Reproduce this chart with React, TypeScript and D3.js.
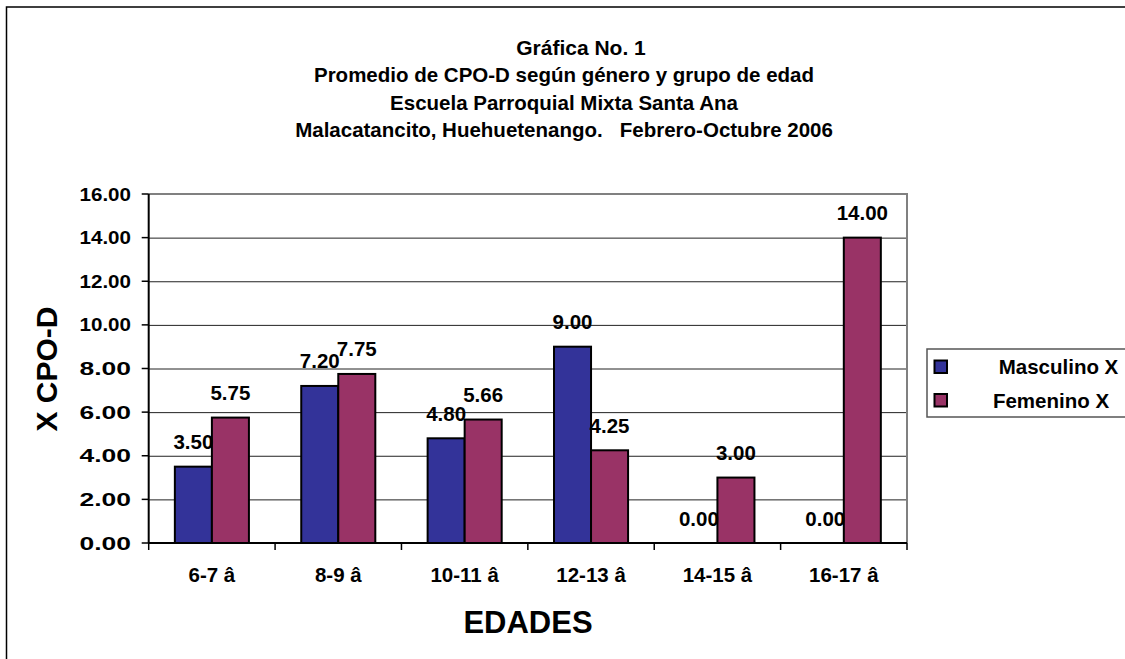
import React, { useEffect, useRef } from "react";
import * as d3 from "d3";

const categories = ["6-7 â", "8-9 â", "10-11 â", "12-13 â", "14-15 â", "16-17 â"];
const seriesNames = ["Masculino X", "Femenino X"];
const masculino = [3.5, 7.2, 4.8, 9.0, 0, 0];
const femenino = [5.75, 7.75, 5.66, 4.25, 3.0, 14.0];
const seriesColors = ["#333399", "#993366"];
const yTicks = [0, 2, 4, 6, 8, 10, 12, 14, 16];
const titleLines = [
  "Gráfica No. 1",
  "Promedio de CPO-D según género y grupo de edad",
  "Escuela Parroquial Mixta Santa Ana",
  "Malacatancito, Huehuetenango.   Febrero-Octubre 2006",
];

const FONT = "'Liberation Sans', Arial, sans-serif";

const App = () => {
  const svgRef = useRef<SVGSVGElement>(null);

  useEffect(() => {
    const width = 1125;
    const height = 659;
    const left = 148.7;
    const right = 907;
    const top = 194;
    const bottom = 543;

    const svg = d3.select(svgRef.current).attr("width", width).attr("height", height);
    svg.selectAll("*").remove();

    svg.append("rect").attr("width", width).attr("height", height).attr("fill", "#fff");

    // chart border (runs out of the frame on the right and bottom)
    svg
      .append("rect")
      .attr("x", 6.5)
      .attr("y", 7)
      .attr("width", 1140)
      .attr("height", 700)
      .attr("fill", "none")
      .attr("stroke", "#000")
      .attr("stroke-width", 1.5);

    // titles
    svg
      .append("g")
      .selectAll("text")
      .data(titleLines)
      .join("text")
      .attr("x", (d, i) => (i === 0 ? 581 : 564))
      .attr("y", (d, i) => 54.5 + i * 27.5)
      .attr("text-anchor", "middle")
      .attr("font-family", FONT)
      .attr("font-weight", "bold")
      .attr("font-size", (d, i) => (i === 0 ? 21 : 20.5))
      .attr("xml:space", "preserve")
      .style("white-space", "pre")
      .text((d) => d);

    const y = d3.scaleLinear().domain([0, 16]).range([bottom, top]);
    const x0 = d3
      .scaleBand()
      .domain(categories)
      .range([left, right])
      .paddingInner(0.414)
      .paddingOuter(0.207);
    const x1 = d3.scaleBand().domain(seriesNames).range([0, x0.bandwidth()]);
    const step = x0.step();

    // gridlines
    svg
      .append("g")
      .selectAll("line")
      .data(yTicks.filter((t) => t > 0 && t < 16))
      .join("line")
      .attr("x1", left)
      .attr("x2", right)
      .attr("y1", (d) => y(d) + 0.5)
      .attr("y2", (d) => y(d) + 0.5)
      .attr("stroke", "#222")
      .attr("stroke-width", 1);

    // plot area border top/right
    svg
      .append("path")
      .attr("d", `M${left},${top} H${right} V${bottom}`)
      .attr("fill", "none")
      .attr("stroke", "#808080")
      .attr("stroke-width", 2);

    // bars
    const rows = categories.map((c, i) => ({ cat: c, values: [masculino[i], femenino[i]] }));
    const groups = svg
      .append("g")
      .selectAll("g")
      .data(rows)
      .join("g")
      .attr("transform", (d) => `translate(${x0(d.cat)},0)`);

    groups
      .selectAll("rect")
      .data((d) => d.values.map((v, k) => ({ v, k })))
      .join("rect")
      .filter((d) => d.v > 0)
      .attr("x", (d) => x1(seriesNames[d.k])!)
      .attr("y", (d) => y(d.v))
      .attr("width", x1.bandwidth())
      .attr("height", (d) => y(0) - y(d.v))
      .attr("fill", (d) => seriesColors[d.k])
      .attr("stroke", "#000")
      .attr("stroke-width", 2);

    groups
      .selectAll("text")
      .data((d) => d.values.map((v, k) => ({ v, k })))
      .join("text")
      .attr("x", (d) => x1(seriesNames[d.k])! + x1.bandwidth() / 2)
      .attr("y", (d) => y(d.v) - 17.5)
      .attr("text-anchor", "middle")
      .attr("font-family", FONT)
      .attr("font-weight", "bold")
      .attr("font-size", 20.5)
      .text((d) => d.v.toFixed(2));

    // y axis
    const yAxis = svg.append("g");
    yAxis
      .append("line")
      .attr("x1", left)
      .attr("x2", left)
      .attr("y1", top)
      .attr("y2", bottom)
      .attr("stroke", "#000")
      .attr("stroke-width", 2);
    yAxis
      .selectAll("line.tick")
      .data(yTicks)
      .join("line")
      .attr("class", "tick")
      .attr("x1", left - 7)
      .attr("x2", left)
      .attr("y1", (d) => y(d))
      .attr("y2", (d) => y(d))
      .attr("stroke", "#000")
      .attr("stroke-width", 1.5);
    yAxis
      .selectAll("text")
      .data(yTicks)
      .join("text")
      .attr("x", 131)
      .attr("y", (d) => y(d) + 6.5)
      .attr("text-anchor", "end")
      .attr("font-family", FONT)
      .attr("font-weight", "bold")
      .attr("font-size", 18)
      .attr("textLength", 51.5)
      .attr("lengthAdjust", "spacingAndGlyphs")
      .text((d) => d.toFixed(2));

    // x axis
    const xAxis = svg.append("g");
    xAxis
      .append("line")
      .attr("x1", left)
      .attr("x2", right)
      .attr("y1", bottom)
      .attr("y2", bottom)
      .attr("stroke", "#000")
      .attr("stroke-width", 2);
    xAxis
      .selectAll("line.tick")
      .data(d3.range(categories.length + 1))
      .join("line")
      .attr("class", "tick")
      .attr("x1", (i) => left + i * step)
      .attr("x2", (i) => left + i * step)
      .attr("y1", bottom)
      .attr("y2", bottom + 7)
      .attr("stroke", "#000")
      .attr("stroke-width", 1.5);
    xAxis
      .selectAll("text")
      .data(categories)
      .join("text")
      .attr("x", (d) => x0(d)! + x0.bandwidth() / 2)
      .attr("y", 581.7)
      .attr("text-anchor", "middle")
      .attr("font-family", FONT)
      .attr("font-weight", "bold")
      .attr("font-size", 20.5)
      .text((d) => d);

    // axis titles
    svg
      .append("text")
      .attr("x", 528)
      .attr("y", 633)
      .attr("text-anchor", "middle")
      .attr("font-family", FONT)
      .attr("font-weight", "bold")
      .attr("font-size", 31)
      .text("EDADES");

    svg
      .append("text")
      .attr("transform", "translate(56.5,369) rotate(-90)")
      .attr("text-anchor", "middle")
      .attr("font-family", FONT)
      .attr("font-weight", "bold")
      .attr("font-size", 30)
      .text("X CPO-D");

    // legend
    const legend = svg.append("g");
    legend
      .append("rect")
      .attr("x", 927)
      .attr("y", 349)
      .attr("width", 220)
      .attr("height", 68)
      .attr("fill", "#fff")
      .attr("stroke", "#555")
      .attr("stroke-width", 1.5);
    const items = legend
      .selectAll("g")
      .data(seriesNames)
      .join("g")
      .attr("transform", (d, i) => `translate(0,${i * 33.5})`);
    items
      .append("rect")
      .attr("x", 934.5)
      .attr("y", 360.5)
      .attr("width", 12.5)
      .attr("height", 12.5)
      .attr("fill", (d, i) => seriesColors[i])
      .attr("stroke", "#000")
      .attr("stroke-width", 2);
    items
      .append("text")
      .attr("x", (d, i) => (i === 0 ? 1058.5 : 1051))
      .attr("y", 374)
      .attr("text-anchor", "middle")
      .attr("font-family", FONT)
      .attr("font-weight", "bold")
      .attr("font-size", 20.5)
      .text((d) => d);
  }, []);

  return <svg ref={svgRef} style={{ position: "absolute", left: 0, top: 0, display: "block" }}></svg>;
};

export default App;
